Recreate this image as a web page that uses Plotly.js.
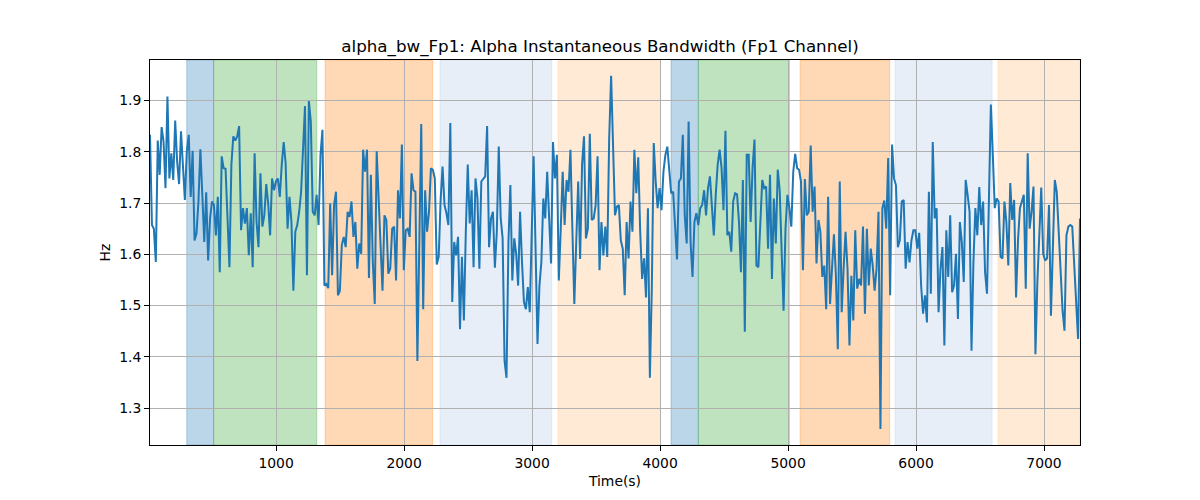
<!DOCTYPE html>
<html>
<head>
<meta charset="utf-8">
<script src="https://cdn.plot.ly/plotly-3.0.1.min.js"></script>
<style>
  html, body { margin: 0; padding: 0; background: #fff; }
  #chart { width: 1200px; height: 500px; }
</style>
</head>
<body>
<div id="chart"></div>
<script>
// data -----------------------------------------------------------------------
const bandwidth = [
  1.833, 1.657, 1.650, 1.585, 1.822, 1.755, 1.848, 1.820, 1.729, 1.908,
  1.748, 1.797, 1.745, 1.861, 1.781, 1.737, 1.840, 1.775, 1.706, 1.801,
  1.833, 1.712, 1.802, 1.627, 1.641, 1.703, 1.805, 1.716, 1.624, 1.721,
  1.588, 1.670, 1.703, 1.696, 1.637, 1.712, 1.565, 1.791, 1.768, 1.767,
  1.663, 1.575, 1.775, 1.830, 1.822, 1.830, 1.850, 1.647, 1.690, 1.660,
  1.690, 1.598, 1.680, 1.575, 1.797, 1.663, 1.614, 1.758, 1.654, 1.676,
  1.737, 1.699, 1.637, 1.748, 1.725, 1.742, 1.748, 1.712, 1.775, 1.819,
  1.778, 1.650, 1.712, 1.663, 1.529, 1.644, 1.657, 1.683, 1.722, 1.794,
  1.889, 1.559,
  1.899, 1.859, 1.683, 1.676, 1.716, 1.657, 1.794, 1.843, 1.539, 1.542,
  1.534, 1.699, 1.559, 1.696, 1.722, 1.520, 1.529, 1.618, 1.634, 1.614,
  1.683, 1.673, 1.703, 1.634, 1.663, 1.572, 1.621, 1.601, 1.804, 1.761,
  1.804, 1.554, 1.755, 1.585, 1.503, 1.801, 1.690, 1.618, 1.529, 1.676,
  1.667, 1.562, 1.572, 1.650, 1.654, 1.549, 1.725, 1.670, 1.814, 1.569,
  1.647, 1.650, 1.634, 1.758, 1.725, 1.722, 1.392, 1.618, 1.854, 1.493,
  1.725, 1.644, 1.683, 1.768, 1.765, 1.748, 1.580, 1.595, 1.706, 1.771,
  1.696, 1.680, 1.657, 1.856, 1.507, 1.624, 1.598, 1.634,
  1.454, 1.595, 1.471, 1.644, 1.775, 1.660, 1.725, 1.575, 1.748, 1.709,
  1.572, 1.742, 1.748, 1.752, 1.850, 1.614, 1.670, 1.683, 1.574, 1.644,
  1.810, 1.670, 1.631, 1.392, 1.359, 1.624, 1.735, 1.549, 1.631, 1.601,
  1.539, 1.683, 1.585, 1.507, 1.493, 1.536, 1.487, 1.637, 1.791, 1.611,
  1.425, 1.539, 1.585, 1.709, 1.670, 1.761, 1.660, 1.582, 1.819, 1.748,
  1.794, 1.549, 1.650, 1.761, 1.657, 1.745, 1.722, 1.804, 1.650, 1.503,
  1.624, 1.742, 1.591, 1.775, 1.830, 1.631, 1.650, 1.835, 1.667, 1.670,
  1.696, 1.791, 1.569, 1.663, 1.598, 1.654, 1.595, 1.827, 1.948, 1.794,
  1.676,
  1.693, 1.696, 1.627, 1.611, 1.520, 1.663, 1.592, 1.703, 1.644, 1.804,
  1.719, 1.789, 1.644, 1.552, 1.592, 1.516, 1.690, 1.359, 1.533, 1.817,
  1.742, 1.690, 1.729, 1.686, 1.761, 1.794, 1.810, 1.768, 1.719, 1.722,
  1.650, 1.590, 1.742, 1.748, 1.833, 1.676, 1.621, 1.859, 1.624, 1.556,
  1.663, 1.680, 1.657, 1.690, 1.696, 1.725, 1.676, 1.729, 1.752, 1.690,
  1.637, 1.716, 1.775, 1.804, 1.768, 1.686, 1.841, 1.637, 1.644, 1.605,
  1.703, 1.719, 1.717, 1.663, 1.565, 1.745, 1.449, 1.794, 1.794, 1.663,
  1.768, 1.824, 1.578, 1.575, 1.670, 1.745, 1.729, 1.732, 1.611, 1.755,
  1.552, 1.709, 1.621, 1.765, 1.725, 1.598, 1.490, 1.650, 1.716, 1.690,
  1.654, 1.761, 1.796, 1.768, 1.765, 1.742, 1.569, 1.747, 1.676, 1.683,
  1.812, 1.683, 1.732, 1.582, 1.667, 1.644, 1.556, 1.578, 1.493, 1.712,
  1.503, 1.572, 1.639, 1.559, 1.415, 1.742, 1.487, 1.572, 1.644, 1.572,
  1.422, 1.558, 1.471, 1.647, 1.533, 1.552, 1.539, 1.654, 1.484, 1.650,
  1.539, 1.611, 1.578, 1.529, 1.572, 1.683, 1.259, 1.690, 1.705, 1.650,
  1.788, 1.520, 1.814, 1.748, 1.735, 1.614, 1.627, 1.703, 1.706, 1.572,
  1.624, 1.584, 1.627, 1.647, 1.647, 1.611, 1.642, 1.539, 1.484, 1.520,
  1.467, 1.722, 1.523, 1.819, 1.670, 1.690, 1.487, 1.572, 1.614, 1.422,
  1.647, 1.556, 1.676, 1.526, 1.539, 1.601, 1.474, 1.663, 1.624, 1.546,
  1.745, 1.716, 1.683, 1.412, 1.585, 1.690, 1.637, 1.731, 1.657, 1.703,
  1.565, 1.523, 1.709, 1.892, 1.794, 1.690, 1.709, 1.703, 1.595, 1.592,
  1.703, 1.663, 1.578, 1.739, 1.667, 1.706, 1.516, 1.627, 1.690, 1.706,
  1.716, 1.533, 1.797, 1.650, 1.683, 1.732, 1.405, 1.546, 1.631, 1.730,
  1.601, 1.588, 1.592, 1.696, 1.480, 1.605, 1.745, 1.722, 1.637, 1.546,
  1.490, 1.451, 1.637, 1.654, 1.657, 1.654, 1.578, 1.516, 1.435, 1.670
];

// sampling grid of the recording (seconds)
const tStart = 15;
const tEnd = 7281;

// shaded segments: start, end (s) and segment kind
const bandStart = [302, 512, 1383, 2281, 3203, 4086, 4299, 5094, 5836, 6641];
const bandEnd   = [512, 1318, 2224, 3154, 4003, 4299, 5010, 5794, 6594, 7281];
const bandKind  = ["b", "g", "o", "lb", "lo", "b", "g", "o", "lb", "lo"];

const xTicks = [1000, 2000, 3000, 4000, 5000, 6000, 7000];
const yTicks = [1.3, 1.4, 1.5, 1.6, 1.7, 1.8, 1.9];

// styling ---------------------------------------------------------------------
const kindColor = {
  b:  "rgba(31,119,180,0.3)",
  g:  "rgba(44,160,44,0.3)",
  o:  "rgba(255,127,14,0.3)",
  lb: "rgba(174,199,232,0.3)",
  lo: "rgba(255,187,120,0.3)",
};

const step = (tEnd - tStart) / (bandwidth.length - 1);
const times = bandwidth.map((_, i) => tStart + i * step);

const shapes = bandStart.map((s, i) => ({
  type: "rect",
  xref: "x",
  yref: "paper",
  x0: s,
  x1: bandEnd[i],
  y0: 0,
  y1: 1,
  fillcolor: kindColor[bandKind[i]],
  line: { color: kindColor[bandKind[i]], width: 1 },
  layer: "below",
}));

const trace = {
  x: times,
  y: bandwidth,
  type: "scatter",
  mode: "lines",
  line: { color: "#1f77b4", width: 2 },
  hoverinfo: "skip",
};

const axisCommon = {
  showline: true,
  mirror: true,
  linecolor: "#000",
  linewidth: 1,
  ticks: "outside",
  ticklen: 5,
  tickwidth: 1,
  tickcolor: "#000",
  showgrid: true,
  gridcolor: "#b0b0b0",
  gridwidth: 1,
  zeroline: false,
  tickfont: { family: "DejaVu Sans", size: 13.9, color: "#000" },
};

const layout = {
  width: 1200,
  height: 500,
  margin: { l: 150, r: 120, t: 60, b: 55 },
  paper_bgcolor: "#fff",
  plot_bgcolor: "#fff",
  showlegend: false,
  font: { family: "DejaVu Sans", color: "#000" },
  title: {
    text: "alpha_bw_Fp1: Alpha Instantaneous Bandwidth (Fp1 Channel)",
    font: { family: "DejaVu Sans", size: 16.7, color: "#000" },
    x: 0.5,
    xanchor: "center",
    y: 0.908,
    yanchor: "middle",
  },
  xaxis: Object.assign({}, axisCommon, {
    range: [tStart, tEnd],
    tickvals: xTicks,
    ticktext: xTicks.map(String),
    title: { text: "Time(s)", font: { family: "DejaVu Sans", size: 13.9 }, standoff: 6 },
  }),
  yaxis: Object.assign({}, axisCommon, {
    range: [1.228, 1.979],
    tickvals: yTicks,
    ticktext: yTicks.map((v) => v.toFixed(1)),
    title: { text: "Hz", font: { family: "DejaVu Sans", size: 13.9 }, standoff: 5 },
  }),
  shapes: shapes,
};

Plotly.newPlot("chart", [trace], layout, { displayModeBar: false, staticPlot: true });
</script>
</body>
</html>
